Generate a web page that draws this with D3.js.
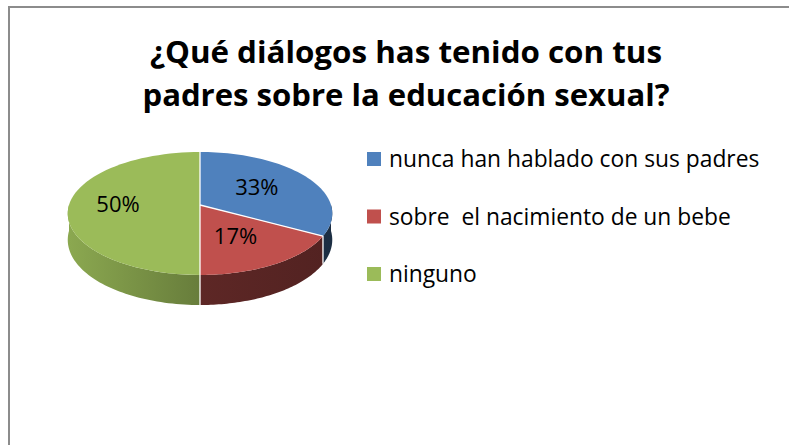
<!DOCTYPE html>
<html>
<head>
<meta charset="utf-8">
<script src="https://cdn.jsdelivr.net/npm/d3@7"></script>
<style>
  body { margin: 0; background: #fff; }
  svg { display: block; }
</style>
</head>
<body>
<svg id="chart"></svg>
<script>
const categories = ['nunca han hablado con sus padres', 'sobre  el nacimiento de un bebe', 'ninguno']
const values = [33, 17, 50]
const pctLabels = ['33%', '17%', '50%']
const titleLines = ['¿Qué diálogos has tenido con tus', 'padres sobre la educación sexual?']

const colors = ['#4F81BD', '#C0504D', '#9BBB59']
// how much darker the side wall gets, at the left and right of the pie
const sideShade = [[2.3, 2.9], [1.7, 2.4], [0.3, 2.3]]

const width = 789
const height = 445

const svg = d3.select('#chart')
    .attr('width', width)
    .attr('height', height)

// chart frame
svg.append('rect')
    .attr('x', 9)
    .attr('y', 7)
    .attr('width', 820)
    .attr('height', 480)
    .attr('fill', '#fff')
    .attr('stroke', '#8c8c8c')
    .attr('stroke-width', 2)

// title
svg.append('g')
    .selectAll('text')
    .data(titleLines)
    .enter()
    .append('text')
    .attr('x', 406)
    .attr('y', (d, i) => 63 + i * 43)
    .attr('text-anchor', 'middle')
    .attr('textLength', (d, i) => i === 0 ? 512 : 527)
    .attr('lengthAdjust', 'spacingAndGlyphs')
    .style('font-family', '"Open Sans", "Noto Sans", sans-serif')
    .style('font-weight', 'bold')
    .style('font-size', '31px')
    .style('fill', '#000')
    .text(d => d)

// 3d pie, slight perspective (back looks smaller than front)
const cx = 200, cy = 205, rx = 131, ry = 60.3, k = 0.138, depth = 25.9

const proj = (a, r = 1, dz = 0) => {
    const u = Math.sin(a) * r
    const v = Math.cos(a) * r
    const s = 1 / (1 + k * v)
    return [cx + rx * u * s, cy - ry * v * s + dz * s]
}

const pie = d3.pie().sort(null).value(d => d)
const arcs = pie(values)

const line = d3.line()
const steps = a => d3.range(0, 61).map(i => a[0] + (a[1] - a[0]) * i / 60)

const defs = svg.append('defs')

arcs.forEach((d, i) => {
    const g = defs.append('linearGradient')
        .attr('id', 'side' + i)
        .attr('gradientUnits', 'userSpaceOnUse')
        .attr('x1', cx - rx).attr('x2', cx + rx)
        .attr('y1', 0).attr('y2', 0)
    g.append('stop').attr('offset', 0)
        .attr('stop-color', d3.color(colors[i]).darker(sideShade[i][0]))
    g.append('stop').attr('offset', 1)
        .attr('stop-color', d3.color(colors[i]).darker(sideShade[i][1]))
})

const pieG = svg.append('g')

// side walls, only the front half is visible
arcs.forEach((d, i) => {
    const a0 = Math.max(d.startAngle, Math.PI / 2)
    const a1 = Math.min(d.endAngle, Math.PI * 1.5)
    if (a1 <= a0) return
    const top = steps([a0, a1]).map(a => proj(a))
    const bottom = steps([a1, a0]).map(a => proj(a, 1, depth))
    pieG.append('path')
        .attr('d', line(top.concat(bottom)) + 'Z')
        .attr('fill', 'url(#side' + i + ')')
})

// top faces
pieG.selectAll('path.top')
    .data(arcs)
    .enter()
    .append('path')
    .attr('class', 'top')
    .attr('d', d => line([[cx, cy]].concat(steps([d.startAngle, d.endAngle]).map(a => proj(a)))) + 'Z')
    .attr('fill', (d, i) => colors[i])

// white separators between slices
arcs.forEach(d => {
    const a = d.startAngle
    const p = proj(a)
    pieG.append('line')
        .attr('x1', cx).attr('y1', cy)
        .attr('x2', p[0]).attr('y2', p[1])
        .attr('stroke', '#fff')
        .attr('stroke-width', 1.3)
    if (Math.cos(a) < 0) {
        const q = proj(a, 1, depth)
        pieG.append('line')
            .attr('x1', p[0]).attr('y1', p[1])
            .attr('x2', q[0]).attr('y2', q[1])
            .attr('stroke', '#fff')
            .attr('stroke-width', 1.3)
    }
})

// percentage labels
const labelPos = d => proj((d.startAngle + d.endAngle) / 2, 0.58)

pieG.selectAll('text')
    .data(arcs)
    .enter()
    .append('text')
    .attr('x', d => labelPos(d)[0] - 6)
    .attr('y', d => labelPos(d)[1] + 7)
    .attr('text-anchor', 'middle')
    .style('font-family', '"Open Sans", "Noto Sans", sans-serif')
    .style('font-size', '22px')
    .style('fill', '#000')
    .text((d, i) => pctLabels[i])

// legend
const legend = svg.append('g')
    .selectAll('g')
    .data(categories)
    .enter()
    .append('g')
    .attr('transform', (d, i) => `translate(367, ${152 + i * 57.5})`)

legend.append('rect')
    .attr('width', 14)
    .attr('height', 14)
    .attr('fill', (d, i) => colors[i])

legend.append('text')
    .attr('x', 22)
    .attr('y', 15)
    .attr('xml:space', 'preserve')
    .style('white-space', 'pre')
    .style('font-family', '"Open Sans", "Noto Sans", sans-serif')
    .style('font-size', '22.8px')
    .style('fill', '#000')
    .text(d => d)
</script>
</body>
</html>
